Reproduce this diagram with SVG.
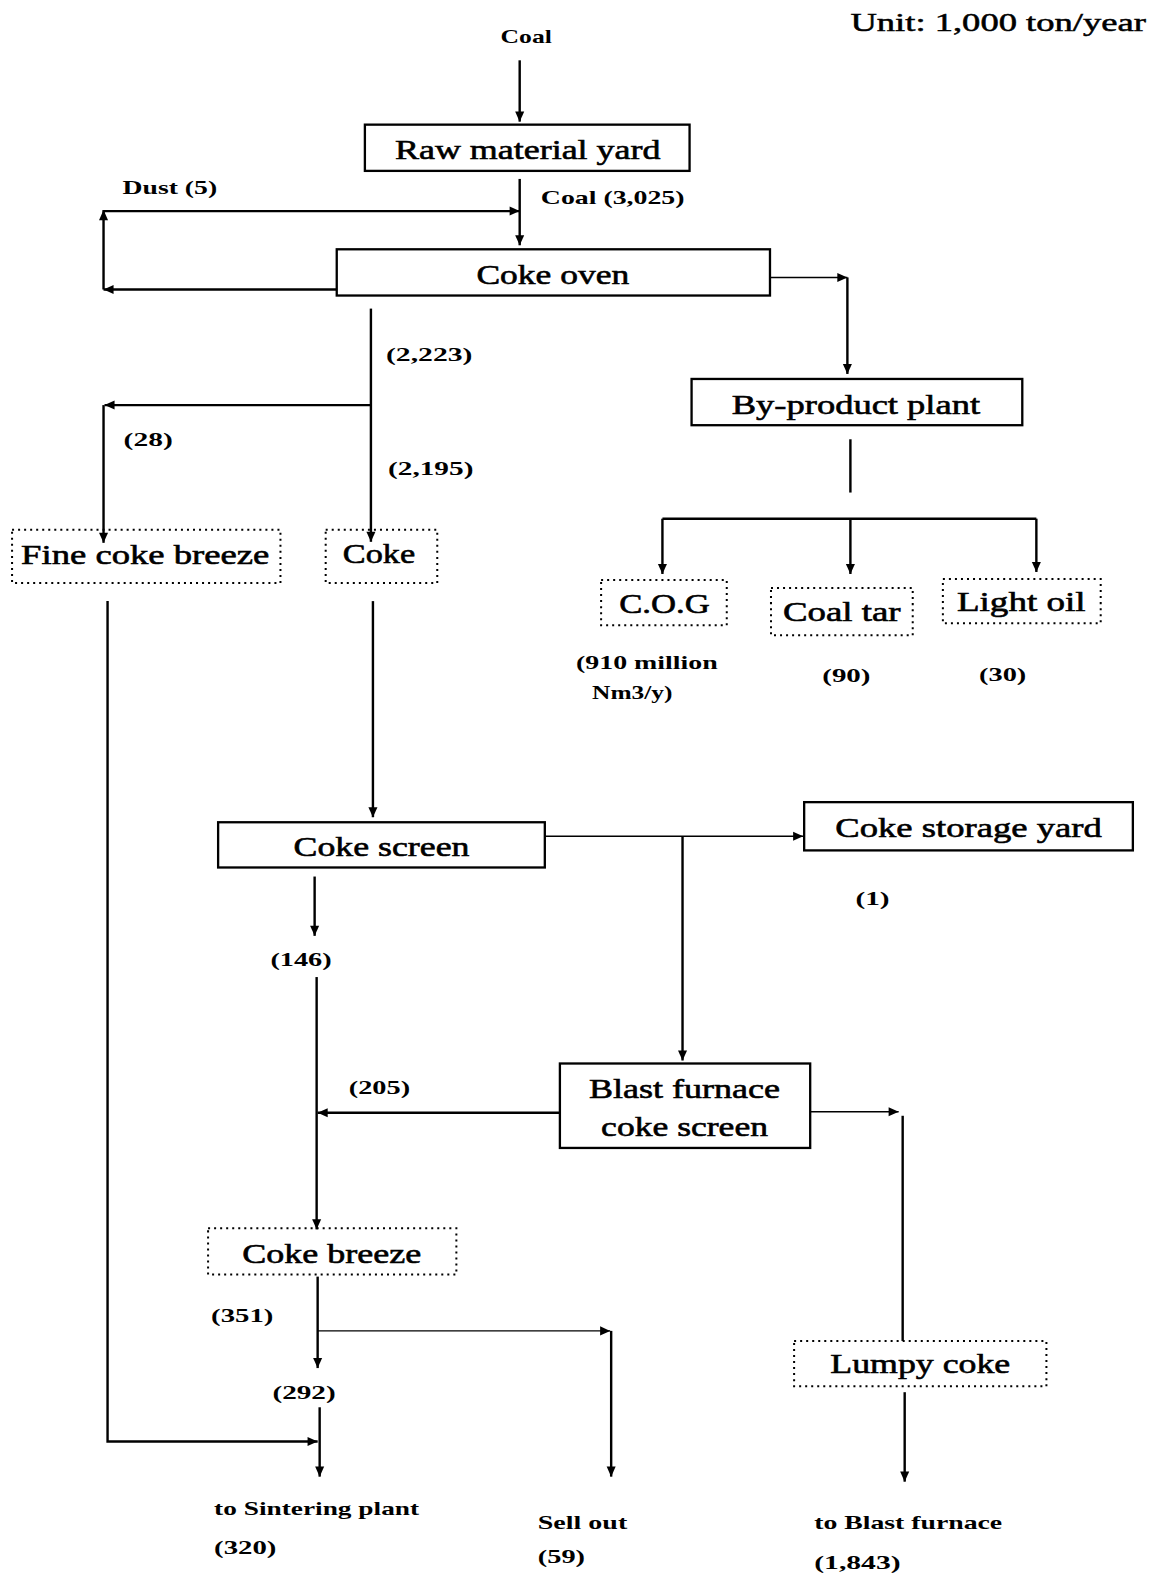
<svg xmlns="http://www.w3.org/2000/svg" width="1155" height="1576" viewBox="0 0 1155 1576">
<style>
.box{fill:none;stroke:#000;stroke-width:2.3}
.dot{fill:none;stroke:#000;stroke-width:2;stroke-dasharray:2 4}
.ln{fill:none;stroke:#000;stroke-width:2.4}
.thin{fill:none;stroke:#000;stroke-width:1.4}
.t{font-family:"Liberation Serif","Times New Roman",serif;fill:#000}
.big{font-size:28px;stroke:#000;stroke-width:0.6}
.sm{font-size:19px;font-weight:bold}
</style>
<defs>
<marker id="a" viewBox="0 0 10 10" refX="10" refY="5" markerWidth="13" markerHeight="10" markerUnits="userSpaceOnUse" orient="auto">
<path d="M0,0.5 L10,5 L0,9.5 Z" fill="#000"/>
</marker>
</defs>
<rect width="1155" height="1576" fill="#fff"/>
<g transform="scale(1.0052)">
<g id="labels">
<text class="t sm" x="498" y="43" textLength="51" lengthAdjust="spacingAndGlyphs">Coal</text>
<text class="t" x="846" y="31" font-size="25" stroke="#000" stroke-width="0.5" textLength="294" lengthAdjust="spacingAndGlyphs">Unit: 1,000 ton/year</text>
<text class="t sm" x="122" y="193" textLength="94" lengthAdjust="spacingAndGlyphs">Dust (5)</text>
<text class="t sm" x="538" y="203" textLength="143" lengthAdjust="spacingAndGlyphs">Coal (3,025)</text>
<text class="t sm" x="384" y="359" textLength="86" lengthAdjust="spacingAndGlyphs">(2,223)</text>
<text class="t sm" x="123" y="444" textLength="49" lengthAdjust="spacingAndGlyphs">(28)</text>
<text class="t sm" x="386" y="473" textLength="85" lengthAdjust="spacingAndGlyphs">(2,195)</text>
<text class="t sm" x="573" y="666" textLength="141" lengthAdjust="spacingAndGlyphs">(910 million</text>
<text class="t sm" x="589" y="695" textLength="80" lengthAdjust="spacingAndGlyphs">Nm3/y)</text>
<text class="t sm" x="818" y="678" textLength="48" lengthAdjust="spacingAndGlyphs">(90)</text>
<text class="t sm" x="974" y="677" textLength="47" lengthAdjust="spacingAndGlyphs">(30)</text>
<text class="t sm" x="851" y="900" textLength="34" lengthAdjust="spacingAndGlyphs">(1)</text>
<text class="t sm" x="269" y="961" textLength="61" lengthAdjust="spacingAndGlyphs">(146)</text>
<text class="t sm" x="347" y="1088" textLength="61" lengthAdjust="spacingAndGlyphs">(205)</text>
<text class="t sm" x="210" y="1315" textLength="62" lengthAdjust="spacingAndGlyphs">(351)</text>
<text class="t sm" x="271" y="1392" textLength="63" lengthAdjust="spacingAndGlyphs">(292)</text>
<text class="t sm" x="213" y="1507" textLength="204" lengthAdjust="spacingAndGlyphs">to Sintering plant</text>
<text class="t sm" x="213" y="1546" textLength="62" lengthAdjust="spacingAndGlyphs">(320)</text>
<text class="t sm" x="535" y="1521" textLength="89" lengthAdjust="spacingAndGlyphs">Sell out</text>
<text class="t sm" x="535" y="1555" textLength="47" lengthAdjust="spacingAndGlyphs">(59)</text>
<text class="t sm" x="810" y="1521" textLength="187" lengthAdjust="spacingAndGlyphs">to Blast furnace</text>
<text class="t sm" x="810" y="1561" textLength="86" lengthAdjust="spacingAndGlyphs">(1,843)</text>
</g>
<g id="raw-material-yard">
<rect class="box" x="363" y="124" width="323" height="46"/>
<text class="t big" x="393" y="158" textLength="264" lengthAdjust="spacingAndGlyphs">Raw material yard</text>
</g>
<g id="coke-oven">
<rect class="box" x="335" y="248" width="431" height="46"/>
<text class="t big" x="474" y="283" textLength="152" lengthAdjust="spacingAndGlyphs">Coke oven</text>
</g>
<g id="by-product-plant">
<rect class="box" x="688" y="377" width="329" height="46"/>
<text class="t big" x="728" y="412" textLength="247" lengthAdjust="spacingAndGlyphs">By-product plant</text>
</g>
<g id="fine-coke-breeze">
<rect class="dot" x="12" y="527" width="267" height="53"/>
<text class="t big" x="21" y="561" textLength="247" lengthAdjust="spacingAndGlyphs">Fine coke breeze</text>
</g>
<g id="coke">
<rect class="dot" x="324" y="527" width="111" height="53"/>
<text class="t big" x="341" y="560" textLength="72" lengthAdjust="spacingAndGlyphs">Coke</text>
</g>
<g id="cog">
<rect class="dot" x="598" y="577" width="125" height="45"/>
<text class="t big" x="616" y="610" textLength="90" lengthAdjust="spacingAndGlyphs">C.O.G</text>
</g>
<g id="coal-tar">
<rect class="dot" x="767" y="585" width="141" height="47"/>
<text class="t big" x="779" y="618" textLength="117" lengthAdjust="spacingAndGlyphs">Coal tar</text>
</g>
<g id="light-oil">
<rect class="dot" x="938" y="576" width="157" height="44"/>
<text class="t big" x="952" y="608" textLength="128" lengthAdjust="spacingAndGlyphs">Light oil</text>
</g>
<g id="coke-screen">
<rect class="box" x="217" y="818" width="325" height="45"/>
<text class="t big" x="292" y="852" textLength="175" lengthAdjust="spacingAndGlyphs">Coke screen</text>
</g>
<g id="coke-storage-yard">
<rect class="box" x="800" y="798" width="327" height="48"/>
<text class="t big" x="831" y="833" textLength="265" lengthAdjust="spacingAndGlyphs">Coke storage yard</text>
</g>
<g id="blast-furnace-coke-screen">
<rect class="box" x="557" y="1058" width="249" height="84"/>
<text class="t big" x="586" y="1092" textLength="190" lengthAdjust="spacingAndGlyphs">Blast furnace</text>
<text class="t big" x="598" y="1130" textLength="166" lengthAdjust="spacingAndGlyphs">coke screen</text>
</g>
<g id="coke-breeze">
<rect class="dot" x="207" y="1222" width="247" height="46"/>
<text class="t big" x="241" y="1256" textLength="178" lengthAdjust="spacingAndGlyphs">Coke breeze</text>
</g>
<g id="lumpy-coke">
<rect class="dot" x="790" y="1334" width="251" height="45"/>
<text class="t big" x="826" y="1366" textLength="179" lengthAdjust="spacingAndGlyphs">Lumpy coke</text>
</g>
<g id="connectors">
<path class="ln" d="M517,60 V121" marker-end="url(#a)"/>
<path class="ln" d="M517,178 V244" marker-end="url(#a)"/>
<path class="ln" d="M335,288 H103" marker-end="url(#a)"/>
<path class="ln" d="M103,288 V209" marker-end="url(#a)"/>
<path class="ln" d="M103,210 H517" marker-end="url(#a)"/>
<path class="thin" d="M766,276 H843" marker-end="url(#a)"/>
<path class="ln" d="M843,276 V372" marker-end="url(#a)"/>
<path class="ln" d="M846,437 V490"/>
<path class="ln" d="M659,516 H1031"/>
<path class="ln" d="M659,516 V571" marker-end="url(#a)"/>
<path class="ln" d="M846,516 V571" marker-end="url(#a)"/>
<path class="ln" d="M1031,516 V569" marker-end="url(#a)"/>
<path class="ln" d="M369,307 V539" marker-end="url(#a)"/>
<path class="ln" d="M369,403 H104" marker-end="url(#a)"/>
<path class="ln" d="M103,403 V540" marker-end="url(#a)"/>
<path class="ln" d="M107,598 V1434 H316" marker-end="url(#a)"/>
<path class="ln" d="M371,598 V813" marker-end="url(#a)"/>
<path class="thin" d="M542,832 H799" marker-end="url(#a)"/>
<path class="ln" d="M679,832 V1055" marker-end="url(#a)"/>
<path class="ln" d="M313,872 V931" marker-end="url(#a)"/>
<path class="ln" d="M315,972 V1223" marker-end="url(#a)"/>
<path class="ln" d="M557,1107 H316" marker-end="url(#a)"/>
<path class="thin" d="M806,1106 H894" marker-end="url(#a)"/>
<path class="ln" d="M898,1110 V1334"/>
<path class="ln" d="M900,1385 V1474" marker-end="url(#a)"/>
<path class="ln" d="M316,1270 V1361" marker-end="url(#a)"/>
<path class="thin" d="M316,1324 H607" marker-end="url(#a)"/>
<path class="ln" d="M608,1324 V1469" marker-end="url(#a)"/>
<path class="ln" d="M318,1400 V1469" marker-end="url(#a)"/>
</g>
</g>
</svg>
